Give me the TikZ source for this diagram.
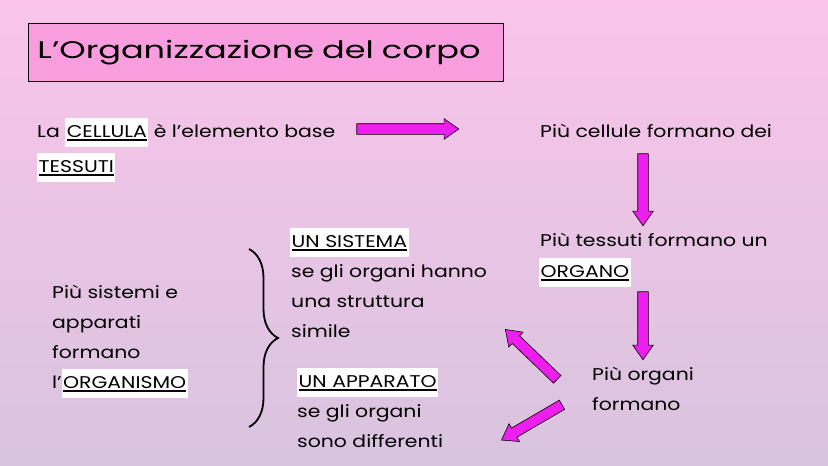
\documentclass[tikz,border=0pt]{standalone}
\usepackage{fontspec}
\setmainfont[FakeStretch=1.2]{Poppins}
\newfontfamily\titlefont[FakeStretch=1.4]{Poppins}
\usetikzlibrary{shapes.arrows,decorations.pathreplacing,calc}
\definecolor{bgtop}{RGB}{250,196,234}
\definecolor{bgbot}{RGB}{216,196,222}
\definecolor{titlefill}{RGB}{248,158,222}
\definecolor{arrowmag}{RGB}{238,30,238}
\newcommand\myul[1]{\setbox0\hbox{#1}\rlap{\rule[-3.5pt]{\wd0}{1.3pt}}\box0}
\newcommand\hlw[1]{{\setlength\fboxsep{1.5pt}\colorbox{white}{\rule[-8pt]{0pt}{26pt}\myul{#1}}}}
\begin{document}
\begin{tikzpicture}[x=1pt,y=-1pt,
  txt/.style={anchor=base west,inner sep=0pt,font=\fontsize{17}{30}\selectfont},
  blockarrow/.style={single arrow,draw=black,fill=arrowmag,line width=0.6pt,
    single arrow head extend=5pt,single arrow head indent=0pt,
    single arrow tip angle=70,inner sep=0pt,allow upside down}]
\shade[top color=bgtop,bottom color=bgbot] (0,0) rectangle (828,466);
\useasboundingbox (0,0) rectangle (828,466);
% title
\node[draw=black,fill=titlefill,line width=1pt,anchor=north west,
  minimum width=475pt,minimum height=58pt,text width=457pt,align=left,
  inner xsep=9pt,font=\titlefont\fontsize{24}{30}\selectfont] (title) at (28,23) {L’Organizzazione del corpo};
% row 1
\node[txt] (l1) at (37,137) {La \hlw{CELLULA} è l’elemento base};
\node[txt] (l2) at (37,172) {\hlw{TESSUTI}};
\node[txt] (r1) at (540,137) {Più cellule formano dei};
\node[txt] (r2) at (540,246) {Più tessuti formano un};
\node[txt] (r3) at (539,277) {\hlw{ORGANO}};
\node[txt] (o1) at (592,380) {Più organi};
\node[txt] (o2) at (592,410) {formano};
% left column
\node[txt] (s1) at (52,298) {Più sistemi e};
\node[txt] (s2) at (52,328) {apparati};
\node[txt] (s3) at (52,358) {formano};
\node[txt] (s4) at (52,388) {l’\hlw{ORGANISMO}};
% right of brace
\node[txt] (t1) at (290,247) {\hlw{UN SISTEMA}};
\node[txt] (t2) at (291,277) {se gli organi hanno};
\node[txt] (t3) at (291,307) {una struttura};
\node[txt] (t4) at (291,337) {simile};
\node[txt] (u1) at (297,387) {\hlw{UN APPARATO}};
\node[txt] (u2) at (297,417) {se gli organi};
\node[txt] (u3) at (297,447) {sono differenti};
% brace
\coordinate (b1) at (249,249);
\coordinate (b2) at (249,427);
\draw[decorate,decoration={brace,amplitude=29pt,aspect=0.5},line width=1.8pt] (b1) -- (b2);
% arrows
\coordinate (a1s) at (353,129); \coordinate (a1e) at (455,129);
\coordinate (a2s) at (643,150); \coordinate (a2e) at (643,222);
\coordinate (a3s) at (643,288); \coordinate (a3e) at (643,356);
\coordinate (a4s) at (560,382); \coordinate (a4e) at (508,332);
\coordinate (a5s) at (565,403); \coordinate (a5e) at (505,438);
\path (a1s) -- (a1e) node[midway,sloped,blockarrow,minimum height=102pt] (arr1) {\rule{0pt}{10pt}};
\path (a2s) -- (a2e) node[midway,sloped,blockarrow,minimum height=72pt] (arr2) {\rule{0pt}{10pt}};
\path (a3s) -- (a3e) node[midway,sloped,blockarrow,minimum height=68pt] (arr3) {\rule{0pt}{10pt}};
\path (a4s) -- (a4e) node[midway,sloped,blockarrow,minimum height=72pt] (arr4) {\rule{0pt}{10pt}};
\path (a5s) -- (a5e) node[midway,sloped,blockarrow,minimum height=70pt] (arr5) {\rule{0pt}{10pt}};
\end{tikzpicture}
\end{document}
